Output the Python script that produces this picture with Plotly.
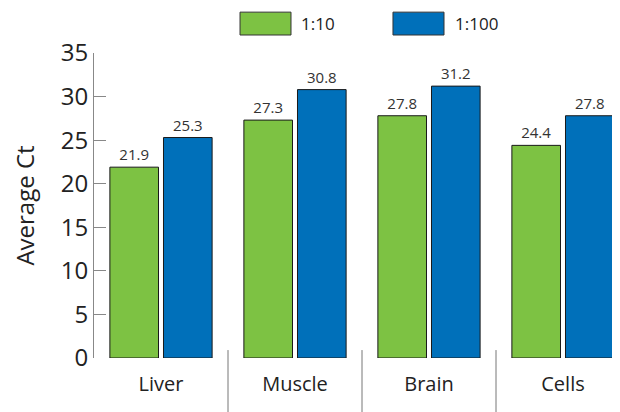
import plotly.graph_objects as go

categories = ["Liver", "Muscle", "Brain", "Cells"]
series_names = ["1:10", "1:100"]
values_1_10 = [21.9, 27.3, 27.8, 24.4]
values_1_100 = [25.3, 30.8, 31.2, 27.8]
colors = ["#7DC243", "#0070BA"]

FONT = "Open Sans"

fig = go.Figure()
for name, vals, col in zip(series_names, [values_1_10, values_1_100], colors):
    fig.add_trace(go.Bar(
        x=categories, y=vals, name=name,
        marker=dict(color=col, line=dict(color="#1a1a1a", width=1)),
        text=vals, texttemplate="%{y:.1f}", textposition="outside",
        textfont=dict(family=FONT, size=15, color="#333333"),
        cliponaxis=False, showlegend=False,
    ))

# category dividers below the axis
for xpos in [0.5, 1.5, 2.5]:
    fig.add_shape(type="line", xref="x", yref="paper", x0=xpos, x1=xpos,
                  y0=0.026, y1=-0.2, line=dict(color="#777777", width=1))

# custom legend (paper coords over a 526px-wide plot area starting at x=94)
legend_items = [(0.2776, 0.3745, 0.390), (0.5684, 0.6654, 0.682)]
for (x0, x1, tx), name, col in zip(legend_items, series_names, colors):
    fig.add_shape(type="rect", xref="paper", yref="paper", x0=x0, x1=x1,
                  y0=1.059, y1=1.134, fillcolor=col,
                  line=dict(color="#333333", width=1))
    fig.add_annotation(xref="paper", yref="paper", x=tx, y=1.096, text=name,
                       showarrow=False, xanchor="left", yanchor="middle",
                       font=dict(family=FONT, size=17, color="#222222"))

fig.update_layout(
    width=612, height=404,
    margin=dict(l=86, r=0, t=45, b=54),
    paper_bgcolor="white", plot_bgcolor="white",
    barmode="group", bargap=0.20, bargroupgap=0.093,
    font=dict(family=FONT, color="#222222"),
)
fig.update_xaxes(
    range=[-0.5, 3.4254], showline=False, ticks="", showgrid=False,
    tickfont=dict(family=FONT, size=20, color="#222222"),
    ticklabelstandoff=12,
)
fig.update_yaxes(
    range=[0, 35], dtick=5, showline=True, linecolor="#888888", linewidth=1,
    ticks="inside", ticklen=12, tickcolor="#888888", showgrid=False,
    zeroline=False,
    tickfont=dict(family=FONT, size=24, color="#222222"),
    title=dict(text="Average Ct", font=dict(family=FONT, size=24, color="#222222"),
               standoff=22),
)

fig.write_html("out.html")
